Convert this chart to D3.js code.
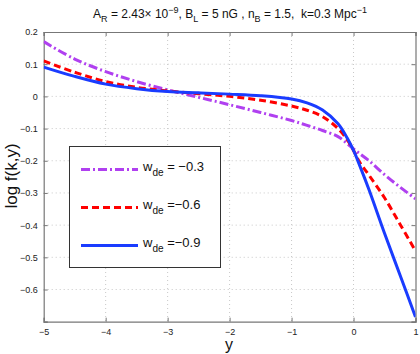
<!DOCTYPE html>
<html><head><meta charset="utf-8">
<script src="https://cdn.jsdelivr.net/npm/d3@7"></script>
<style>body{margin:0;background:#fff}svg{display:block;font-family:"Liberation Sans",Arial,sans-serif}</style>
</head><body><svg id="c" width="420" height="354"></svg>
<script>
const xs = [-5,-4.5,-4,-3.5,-3,-2.5,-2,-1.5,-1,-0.75,-0.5,-0.25,-0.1,0,0.1,0.25,0.5,0.75,1];
const wPurple = [0.170,0.116,0.077,0.046,0.020,-0.003,-0.026,-0.050,-0.075,-0.090,-0.106,-0.125,-0.147,-0.163,-0.178,-0.200,-0.243,-0.282,-0.318];
const wRed    = [0.110,0.075,0.046,0.028,0.017,0.008,0.000,-0.012,-0.030,-0.043,-0.063,-0.100,-0.135,-0.168,-0.205,-0.245,-0.315,-0.397,-0.480];
const wBlue   = [0.091,0.062,0.038,0.024,0.015,0.011,0.007,0.002,-0.008,-0.020,-0.042,-0.085,-0.130,-0.168,-0.215,-0.290,-0.425,-0.555,-0.685];
const xTicks = [-5,-4,-3,-2,-1,0,1];
const yTicks = [0.2,0.1,0,-0.1,-0.2,-0.3,-0.4,-0.5,-0.6,-0.7];
const seriesNames = ["= \u22120.3","=\u22120.6","=\u22120.9"];
const colors = ["#b040f0","#ff0000","#1a3cff"];
const dashes = ["9,3,2,3","7,4",null];

const svg = d3.select("#c");
const x = d3.scaleLinear().domain([-5,1]).range([43.7,415.5]);
const y = d3.scaleLinear().domain([-0.7,0.2]).range([321.7,32]);
const fmt = v => (v<0?"\u2212":"") + String(Math.abs(v));

// grid
const g = svg.append("g");
g.selectAll(".gx").data(xTicks.slice(1,-1)).enter().append("line")
 .attr("x1",d=>x(d)).attr("x2",d=>x(d)).attr("y1",y(0.2)).attr("y2",y(-0.7))
 .attr("stroke","#c8c8c8").attr("stroke-width",1).attr("stroke-dasharray","1,3");
g.selectAll(".gy").data(yTicks.slice(1,-1)).enter().append("line")
 .attr("x1",x(-5)).attr("x2",x(1)).attr("y1",d=>y(d)).attr("y2",d=>y(d))
 .attr("stroke","#c8c8c8").attr("stroke-width",1).attr("stroke-dasharray","1,3");

// axes
const axB = d3.axisBottom(x).tickValues(xTicks).tickSize(-4).tickPadding(7).tickFormat(fmt);
const axT = d3.axisTop(x).tickValues(xTicks).tickSize(-4).tickFormat("");
const axL = d3.axisLeft(y).tickValues(yTicks).tickSize(-4).tickPadding(6).tickFormat(d=> d===-0.7?"":fmt(+d.toFixed(1)));
const axR = d3.axisRight(y).tickValues(yTicks).tickSize(-4).tickFormat("");
function style(sel){sel.select(".domain").attr("stroke","#777").attr("stroke-width",1.2);
 sel.selectAll(".tick line").attr("stroke","#777");
 sel.selectAll("text").attr("font-size",9).attr("fill","#222").attr("font-family","Liberation Sans, Arial, sans-serif");}
svg.append("g").attr("transform",`translate(0,${y(-0.7)})`).call(axB).call(style);
svg.append("g").attr("transform",`translate(0,${y(0.2)})`).call(axT).call(style);
svg.append("g").attr("transform",`translate(${x(-5)},0)`).call(axL).call(style);
svg.append("g").attr("transform",`translate(${x(1)},0)`).call(axR).call(style);

// lines
const line = d3.line().x(d=>x(d[0])).y(d=>y(d[1])).curve(d3.curveCatmullRom.alpha(0.5));
svg.append("clipPath").attr("id","pc").append("rect")
 .attr("x",x(-5)).attr("y",y(0.2)).attr("width",x(1)-x(-5)).attr("height",y(-0.7)-y(0.2));
[wPurple,wRed,wBlue].forEach((s,i)=>{
 svg.append("path").datum(xs.map((v,j)=>[v,s[j]])).attr("d",line)
  .attr("fill","none").attr("stroke",colors[i]).attr("stroke-width",3)
  .attr("stroke-dasharray",dashes[i]).attr("clip-path","url(#pc)");
});

// legend
const lg = svg.append("g");
lg.append("rect").attr("x",69.5).attr("y",146.5).attr("width",151).attr("height",121)
 .attr("fill","#fff").attr("stroke","#333").attr("stroke-width",1);
const rows = [169.5,207.5,245.5];
rows.forEach((ry,i)=>{
 lg.append("line").attr("x1",81).attr("x2",138).attr("y1",ry).attr("y2",ry)
  .attr("stroke",colors[i]).attr("stroke-width",3).attr("stroke-dasharray",dashes[i]);
 const t = lg.append("text").attr("x",143).attr("y",ry+1).attr("font-size",13).attr("fill","#111");
 t.append("tspan").text("w");
 t.append("tspan").attr("font-size",10).attr("dy",5).text("de");
 t.append("tspan").attr("dy",-5).text(" " + seriesNames[i]);
});

// title
const tt = svg.append("text").attr("x",230).attr("y",18).attr("text-anchor","middle")
 .attr("font-size",12).attr("fill","#111");
tt.append("tspan").text("A");
tt.append("tspan").attr("font-size",9).attr("dy",4).text("R");
tt.append("tspan").attr("dy",-4).text(" = 2.43\u00d7 10");
tt.append("tspan").attr("font-size",9).attr("dy",-5).text("\u22129");
tt.append("tspan").attr("dy",5).text(", B");
tt.append("tspan").attr("font-size",9).attr("dy",4).text("L");
tt.append("tspan").attr("dy",-4).text(" = 5 nG , n");
tt.append("tspan").attr("font-size",9).attr("dy",4).text("B");
tt.append("tspan").attr("dy",-4).text(" = 1.5,\u00a0 k=0.3 Mpc");
tt.append("tspan").attr("font-size",9).attr("dy",-5).text("\u22121");

// axis labels
svg.append("text").attr("x",229).attr("y",350).attr("text-anchor","middle")
 .attr("font-size",16).attr("fill","#111").text("y");
svg.append("text").attr("transform","translate(17,176) rotate(-90)").attr("text-anchor","middle")
 .attr("font-size",17).attr("fill","#111").text("log f(k,y)");
</script></body></html>
